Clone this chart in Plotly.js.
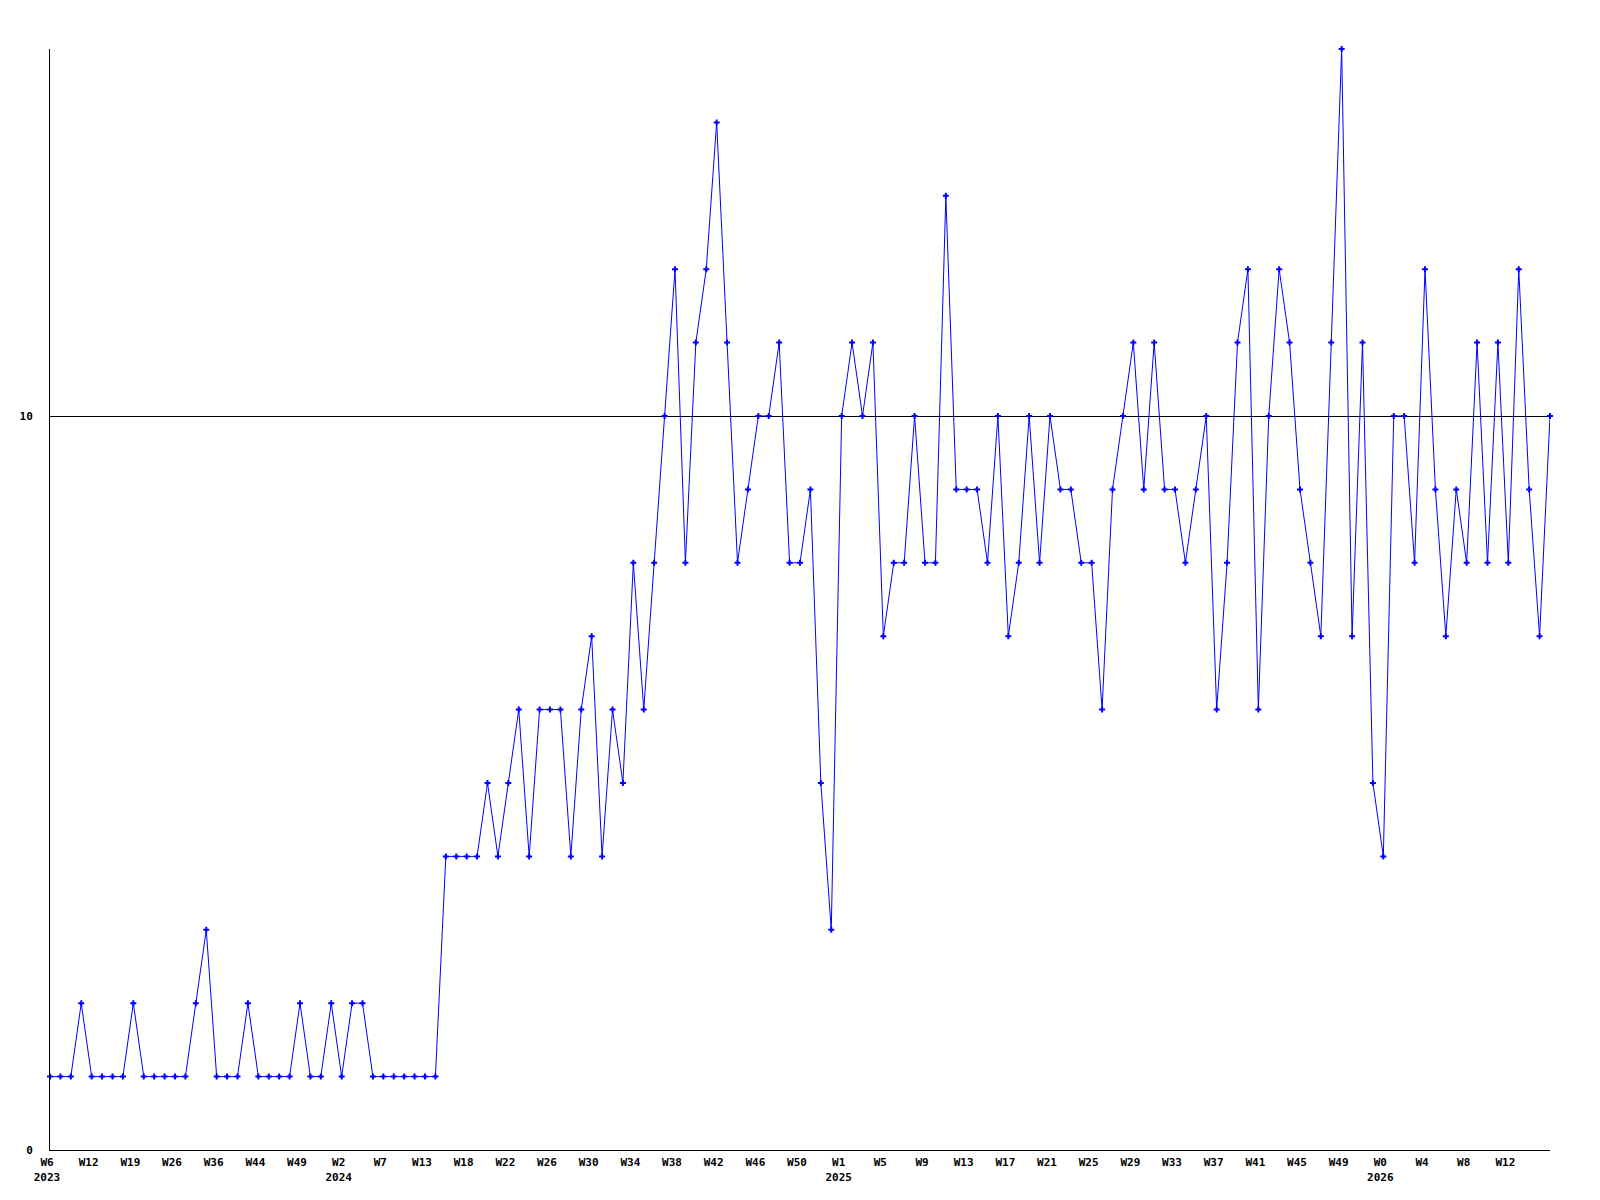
<!DOCTYPE html>
<html>
<head>
<meta charset="utf-8">
<script src="https://cdn.plot.ly/plotly-3.0.1.min.js"></script>
<style>html,body{margin:0;padding:0;background:#fff;}#chart{width:1600px;height:1200px;}</style>
</head>
<body>
<div id="chart"></div>
<script>
// Weekly values, in order
const values = [
  1,1,1,2,1,1,1,1,2,1,1,1,1,1,2,3,1,1,1,2,1,1,1,1,2,1,1,2,1,2,
  2,1,1,1,1,1,1,1,4,4,4,4,5,4,5,6,4,6,6,6,4,6,7,4,6,5,8,6,8,10,
  12,8,11,12,14,11,8,9,10,10,11,8,8,9,5,3,10,11,10,11,7,8,8,10,8,8,13,9,9,9,
  8,10,7,8,10,8,10,9,9,8,8,6,9,10,11,9,11,9,9,8,9,10,6,8,11,12,6,10,12,11,
  9,8,7,11,15,7,11,5,4,10,10,8,12,9,7,9,8,11,8,11,8,12,9,7,10
];
// Tick labels, placed on every 4th point
const weekLabels = ["W6","W12","W19","W26","W36","W44","W49","W2","W7","W13","W18","W22",
  "W26","W30","W34","W38","W42","W46","W50","W1","W5","W9","W13","W17","W21","W25",
  "W29","W33","W37","W41","W45","W49","W0","W4","W8","W12"];
const yearLabels = {"0":"2023","7":"2024","19":"2025","32":"2026"};
const yTicks = [0, 10];

const xs = values.map((v, i) => i);
const tickvals = weekLabels.map((w, k) => k * 4);
const ticktext = weekLabels.map((w, k) => yearLabels[k] ? w + "<br>" + yearLabels[k] : w);

const font = {family: "DejaVu Sans Mono, monospace", size: 11, color: "#000", weight: "bold"};

Plotly.newPlot("chart", [{
  x: xs, y: values, type: "scatter", mode: "lines+markers",
  line: {color: "#0000ff", width: 1},
  marker: {symbol: "cross", size: 5, color: "#0000ff"},
  cliponaxis: false, hoverinfo: "none"
}], {
  width: 1600, height: 1200,
  margin: {l: 50, r: 50, t: 49, b: 50, pad: 0},
  paper_bgcolor: "#fff", plot_bgcolor: "#fff",
  showlegend: false,
  font: font,
  xaxis: {
    range: [0, 144], tickmode: "array", tickvals: tickvals, ticktext: ticktext,
    showgrid: false, zeroline: false, showline: true, linecolor: "#000", linewidth: 1,
    ticks: "", tickfont: font, ticklabelstandoff: 2, ticklabelshift: -3
  },
  yaxis: {
    range: [0, 15], tickmode: "array", tickvals: yTicks, ticktext: yTicks.map(String),
    showgrid: true, gridcolor: "#000", gridwidth: 1, zeroline: false,
    showline: true, linecolor: "#000", linewidth: 1,
    ticks: "", tickfont: font, ticklabelstandoff: 14
  }
}, {staticPlot: true});
</script>
</body>
</html>
